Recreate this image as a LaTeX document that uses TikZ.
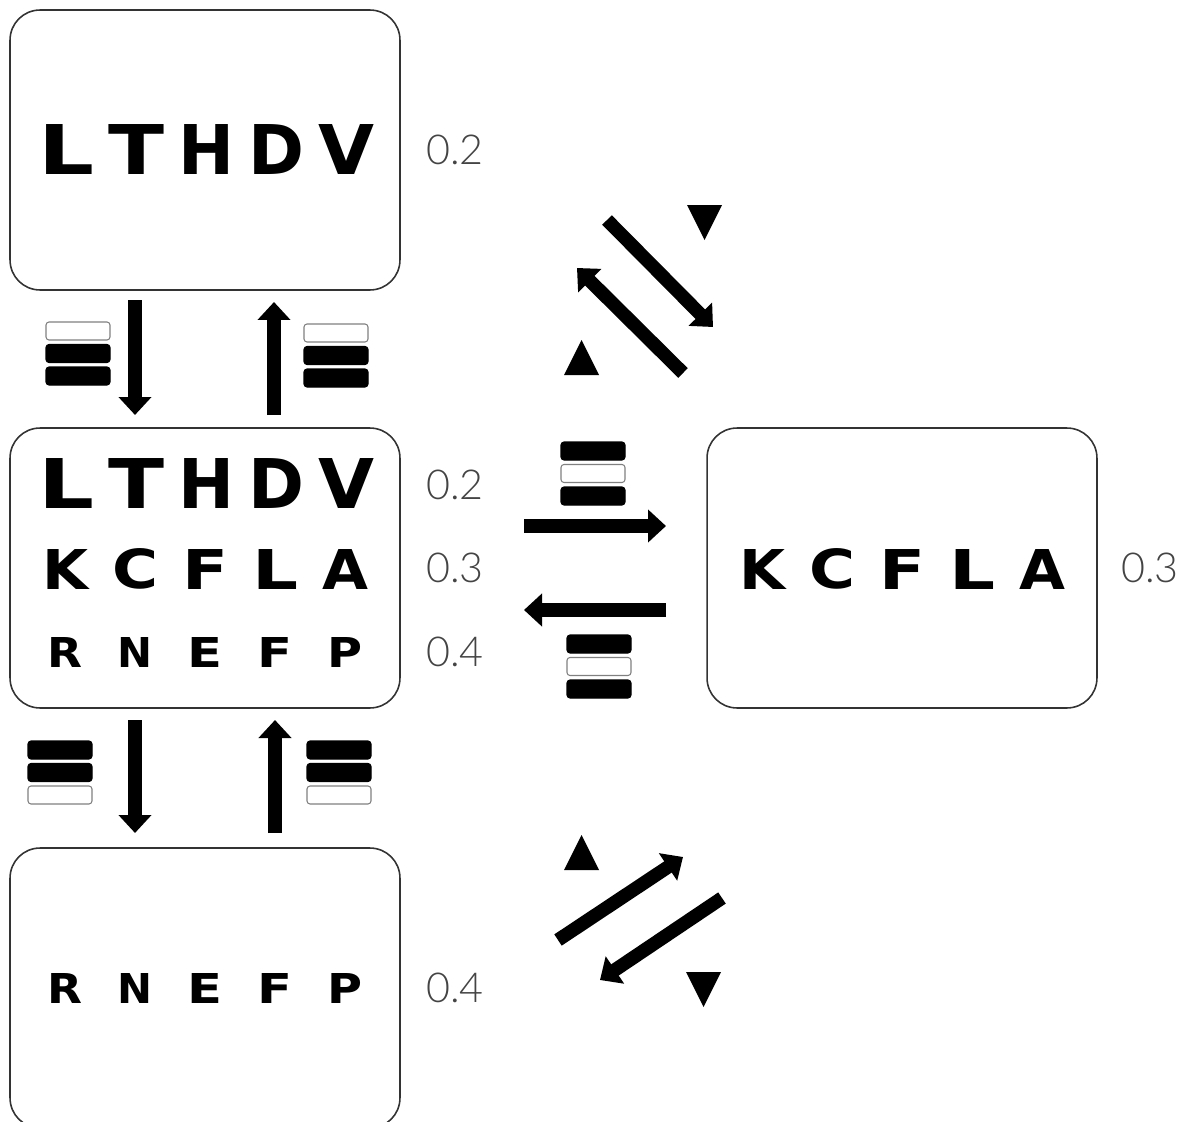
\documentclass[tikz,border=0pt]{standalone}
\usepackage{fontspec}
\usetikzlibrary{arrows.meta}
\newfontfamily\sloanfont{DejaVu Sans}
\newfontfamily\labfont{Lato}[UprightFont=* Light]
\definecolor{boxline}{HTML}{333333}
\definecolor{labgray}{HTML}{444444}
\newcommand\chartrow[6]{%
  \foreach \l [count=\i from 0] in {#6}
    \node[letter] (#2\i) at (#3+70*\i,#4) {\resizebox{#1}{#5}{\l}};}
\newcommand\barstack[3]{%
  \foreach \f/\d [count=\i from 0] in {#3}
    \path[bar, fill=\f, draw=\d] (#1,#2+22.5*\i) rectangle ++(64,18);}
\begin{document}
\begin{tikzpicture}[x=0.02cm,y=-0.02cm,
  chart/.style={draw=boxline, line width=0.9pt, rounded corners=0.6cm,
    minimum width=7.8cm, minimum height=5.6cm, inner sep=0pt},
  letter/.style={font=\sloanfont\bfseries\fontsize{30}{30}\selectfont, inner sep=0pt},
  lab/.style={font=\labfont\fontsize{23.5}{24}\selectfont, text=labgray, inner sep=0pt},
  flow/.style={line width=0.27cm, -{Triangle[length=0.36cm,width=0.64cm]}},
  bar/.style={rounded corners=0.06cm, line width=0.6pt},
]
\useasboundingbox (0,0) rectangle (1194,1122);
\clip (0,0) rectangle (1194,1122);

% boxes
\node[chart] (top) at (205,150) {};
\node[chart] (middle) at (205,568) {};
\node[chart] (right) at (902,568) {};
\node[chart] (bottom) at (205,988) {};

% letters: {width}{prefix}{x0}{y}{height}{letters}
\chartrow{1.12cm}{ta}{66}{150}{1.0cm}{L,T,H,D,V}
\chartrow{1.12cm}{ma}{66}{484}{1.0cm}{L,T,H,D,V}
\chartrow{0.92cm}{mb}{65}{569}{0.8cm}{K,C,F,L,A}
\chartrow{0.7cm}{mc}{65}{652}{0.6cm}{R,N,E,F,P}
\chartrow{0.92cm}{ra}{762}{569}{0.8cm}{K,C,F,L,A}
\chartrow{0.7cm}{ba}{65}{988}{0.6cm}{R,N,E,F,P}

% acuity labels
\node[lab] (l1) at (455,150) {0.2};
\node[lab] (l2) at (455,485) {0.2};
\node[lab] (l3) at (455,568) {0.3};
\node[lab] (l4) at (455,652) {0.4};
\node[lab] (l5) at (1150,568) {0.3};
\node[lab] (l6) at (455,988) {0.4};

% arrow end points
\coordinate (v1s) at (135,300); \coordinate (v1e) at (135,415);
\coordinate (v2s) at (274,415); \coordinate (v2e) at (274,302);
\coordinate (v3s) at (135,720); \coordinate (v3e) at (135,833);
\coordinate (v4s) at (275,833); \coordinate (v4e) at (275,720);
\coordinate (h1s) at (524,526); \coordinate (h1e) at (666,526);
\coordinate (h2s) at (666,610); \coordinate (h2e) at (524,610);
\coordinate (d1s) at (607,220); \coordinate (d1e) at (713,327);
\coordinate (d2s) at (683,373); \coordinate (d2e) at (577,268);
\coordinate (d3s) at (558,940); \coordinate (d3e) at (683,857);
\coordinate (d4s) at (722,898); \coordinate (d4e) at (600,980);

\foreach \a in {v1,v2,v3,v4,h1,h2,d1,d2,d3,d4}
  \draw[flow] (\a s) -- (\a e);

% bar icons
\barstack{46}{322}{white/gray, black/black, black/black}
\barstack{304}{324}{white/gray, black/black, black/black}
\barstack{28}{741}{black/black, black/black, white/gray}
\barstack{307}{741}{black/black, black/black, white/gray}
\barstack{561}{442}{black/black, white/gray, black/black}
\barstack{567}{635}{black/black, white/gray, black/black}

% triangles
\fill (687,205) -- (722,205) -- (704.5,240) -- cycle;
\fill (564,375) -- (599,375) -- (581.5,340) -- cycle;
\fill (564,870) -- (599,870) -- (581.5,835) -- cycle;
\fill (686,972) -- (721,972) -- (703.5,1007) -- cycle;
\end{tikzpicture}
\end{document}
